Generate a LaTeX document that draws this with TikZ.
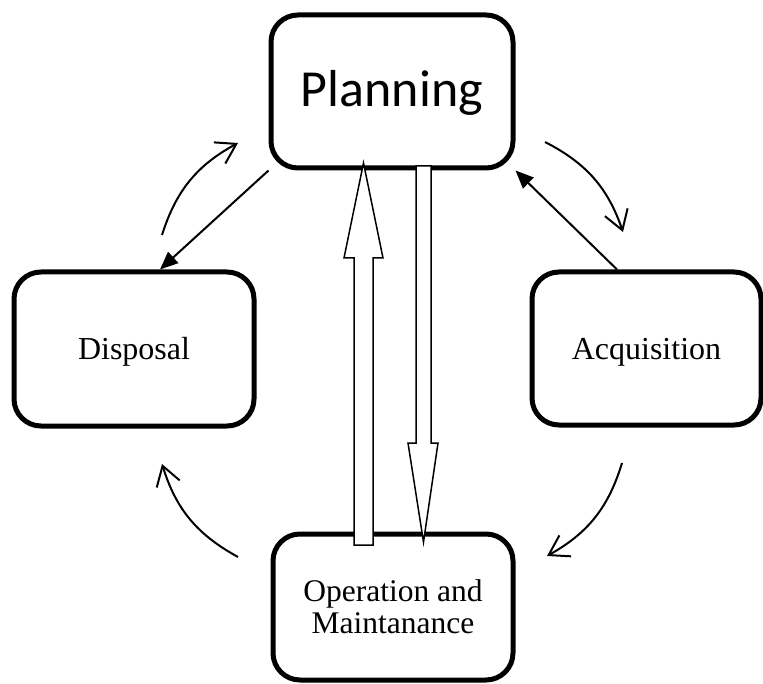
\documentclass[tikz,border=0pt]{standalone}
\usepackage{fontspec}
\setmainfont{Liberation Serif}
\newfontfamily\calib{Carlito}
\usetikzlibrary{arrows.meta,calc}
\begin{document}
\begin{tikzpicture}[x=1pt,y=-1pt,
  box/.style={draw, line width=5pt, rounded corners=27pt, fill=white, inner sep=0pt},
  serif/.style={font=\fontsize{32}{32}\selectfont, text height=22pt, text depth=0pt},
  link/.style={line width=2pt, -{Triangle[length=18pt,width=15pt]}},
  roundarrow/.style={line width=2pt, -{Straight Barb[length=19pt,width=24pt,line width=2pt]}, bend left=22},
  block/.style={draw, line width=1.5pt, fill=white, line join=miter}
]
\useasboundingbox (0,0) rectangle (763,684);
% boxes
\node[box, minimum width=242pt, minimum height=153pt, font=\calib\fontsize{52}{60}\selectfont, text height=31pt, text depth=0pt] (P) at (392,91.5) {Planning};
\node[box, serif, minimum width=240pt, minimum height=154pt] (D) at (134,349) {Disposal};
\node[box, serif, minimum width=229pt, minimum height=153pt] (A) at (646.5,348.5) {Acquisition};
\node[box, minimum width=240pt, minimum height=146pt] (O) at (393,607) {};
\node[font=\fontsize{31.5}{31.5}\selectfont, align=center, anchor=base, inner sep=0pt] (Olabel) at (393,633) {Operation and\\Maintanance};
% straight connectors
\draw[link] (P.south west) -- ([xshift=26pt]D.north);
\draw[link] ([xshift=-29.5pt]A.north) -- (P.south east);
% curved cycle arrows
\coordinate (c1s) at (162,235); \coordinate (c1e) at (238,143);
\coordinate (c2s) at (545,142); \coordinate (c2e) at (623,232);
\coordinate (c3s) at (622,463); \coordinate (c3e) at (547,556);
\coordinate (c4s) at (238,557); \coordinate (c4e) at (162,464);
\draw[roundarrow] (c1s) to (c1e);
\draw[roundarrow] (c2s) to (c2e);
\draw[roundarrow] (c3s) to (c3e);
\draw[roundarrow] (c4s) to (c4e);
% block arrows
\draw[block] (354,545) -- (354,258) -- (344,258) -- (363.5,163) -- (383,258) -- (373,258) -- (373,545) -- cycle;
\draw[block] (416,166) -- (431,166) -- (431,443) -- (438,443) -- (423.5,542) -- (408,443) -- (416,443) -- cycle;
\end{tikzpicture}
\end{document}
